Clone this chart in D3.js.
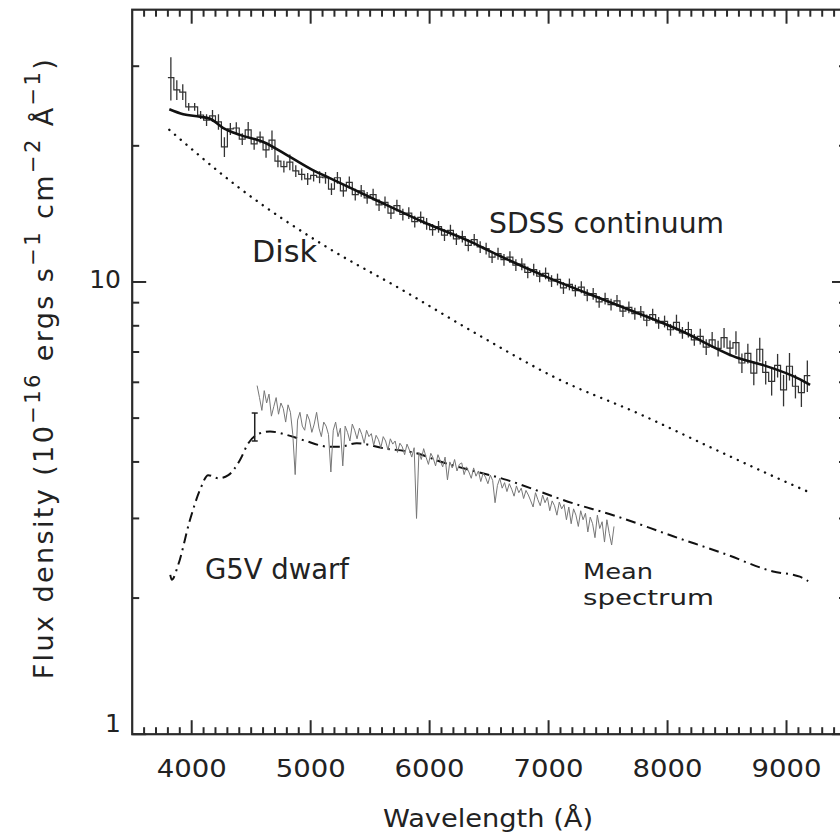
<!DOCTYPE html>
<html><head><meta charset="utf-8">
<script src="https://cdn.jsdelivr.net/npm/d3@7"></script>
<style>body{margin:0;background:#fff}svg{display:block}</style>
</head><body>
<svg id="chart" width="840" height="835"></svg>
<script>
// ---------------- data ----------------
const xMajorTicks = [4000, 5000, 6000, 7000, 8000, 9000];
const yLabelTicks = [1, 10];
const yMinorTicks = [2, 3, 4, 5, 6, 7, 8, 9, 20, 30];

const continuumWave = [3812, 3929, 4070, 4154, 4266, 4406, 4602, 4826, 5022, 5161, 5526, 5946, 6366, 6506, 6983, 7543, 8103, 8607, 8803, 9114, 9198];
const continuumFlux = [24.1, 23.5, 23.2, 22.95, 21.9, 21.15, 20.4, 18.9, 17.65, 16.97, 15.28, 13.57, 12.2, 11.7, 10.26, 8.96, 7.82, 6.77, 6.55, 6.09, 5.92];

const diskWave = [3812, 4406, 5134, 5750, 6424, 7081, 7769, 8328, 8887, 9210];
const diskFlux = [21.7, 16.1, 11.95, 9.67, 7.6, 6.1, 5.1, 4.35, 3.72, 3.41];

const g5vWave = [3820, 3832, 3887, 3986, 4070, 4139, 4224, 4308, 4406, 4476, 4574, 4658, 4798, 4938, 5162, 5246, 5387, 5610, 5891, 6087, 6647, 7207, 7543, 8047, 8471, 8887, 9112, 9182];
const g5vFlux = [2.25, 2.195, 2.37, 2.98, 3.47, 3.74, 3.68, 3.74, 4.04, 4.40, 4.63, 4.67, 4.59, 4.47, 4.32, 4.32, 4.40, 4.29, 4.18, 4.01, 3.65, 3.24, 3.05, 2.74, 2.51, 2.29, 2.23, 2.18];

const meanStart = 4550, meanStep = 20;
const meanFlux = [
  5.90, 5.55, 5.20, 5.75, 5.40, 5.65, 5.05, 5.30, 5.55, 5.10, 5.40, 5.25, 4.90, 5.35, 5.15, 4.60,
  3.75,
  4.95, 5.15, 4.80, 4.70, 5.10, 4.95, 4.65, 4.85, 5.15, 4.75, 4.55, 4.90, 4.80, 4.60,
  3.80,
  4.70, 4.90, 4.55, 4.75,
  3.92,
  4.80, 4.65, 4.45, 4.85, 4.70, 4.50, 4.75, 4.60, 4.40, 4.70, 4.55, 4.62, 4.35, 4.58, 4.48,
  4.30, 4.55, 4.45, 4.25, 4.50, 4.38, 4.45, 4.20, 4.40, 4.32, 4.15, 4.38, 4.25, 4.10, 4.30,
  3.00,
  4.20, 4.05, 4.28, 4.10, 3.95, 4.18, 4.08, 3.92, 4.15, 4.02, 3.90, 4.10,
  3.65, 4.00, 3.88, 4.05, 3.82, 3.95, 3.98, 3.75, 3.90, 3.80, 3.68, 3.88, 3.72, 3.82, 3.62, 3.78, 3.70, 3.58, 3.74, 3.64,
  3.25, 3.55, 3.68, 3.50, 3.60, 3.44, 3.58, 3.48, 3.36, 3.54, 3.42, 3.50, 3.32, 3.46, 3.38, 3.28,
  3.18, 3.42, 3.30, 3.20, 3.38, 3.25, 3.34, 3.12, 3.28, 3.20, 3.05, 3.26, 3.15, 3.22, 2.98, 3.18,
  2.92, 3.15, 3.05, 2.88, 3.12, 2.98, 3.08, 2.80, 3.02, 2.92, 2.72, 3.05, 2.85, 2.95, 2.66, 2.98,
  2.78, 2.62, 2.88];
const meanErrWave = 4530, meanErrLo = 4.45, meanErrHi = 5.13;

const sdssStart = 3800, sdssBin = 50;
const sdssFlux = [28.3, 26.6, 26.3, 24.4, 24.4, 23.4, 22.8, 23.3, 22.6, 19.9,
  21.8, 21.9, 20.7, 21.7, 20.2, 20.9, 19.6, 20.6, 18.5, 18.0,
  18.4, 17.6, 17.3, 16.9, 17.2, 17.05, 17.0, 16.05, 17.0, 15.9,
  16.6, 15.6, 15.9, 15.35, 15.6, 14.8, 15.0, 14.2, 14.75, 14.1,
  14.2, 13.6, 13.9, 13.45, 13.05, 13.25, 12.7, 13.0, 12.45, 12.6,
  12.05, 12.4, 11.95, 11.85, 11.35, 11.55, 11.2, 11.35, 10.9, 10.95,
  10.5, 10.65, 10.3, 10.45, 10.05, 10.13, 9.7, 9.88, 9.57, 9.74,
  9.35, 9.42, 9.04, 9.19, 8.91, 9.08, 8.62, 8.79, 8.51, 8.59,
  8.23, 8.47, 8.12, 8.18, 7.84, 8.14, 7.72, 7.85, 7.45, 7.58,
  7.18, 7.45, 7.13, 7.53, 7.14, 7.34, 6.62, 6.95, 6.29, 7.1,
  6.31, 6.03, 6.54, 5.77, 6.51, 5.88, 5.69, 6.21];
const sdssErrPct = [11, 5, 4, 2, 2, 2, 3, 3, 4, 5,
  3, 3, 3, 4, 3, 3, 4, 5, 3, 3,
  4, 3, 3, 3, 3, 3, 3, 3, 3, 3,
  3, 3, 3, 3, 3, 3, 3, 3, 3, 3,
  3, 3, 3, 3, 3, 3, 3, 3, 3, 3,
  3, 3, 3, 3, 3, 3, 3, 3, 3, 3,
  3, 3, 3, 3, 3, 3, 3, 3, 3, 3,
  3, 3, 3, 3, 3, 3, 3, 3, 3, 3,
  3, 3, 3, 3, 3, 4, 3, 4, 3, 4,
  4, 4, 4, 5, 4, 6, 5, 5, 6, 6,
  6, 7, 6, 8, 7, 6, 7, 8];

const labels = [
  {text: "SDSS continuum", x: 489, y: 233, size: 28, w: 235},
  {text: "Disk", x: 252, y: 262, size: 30, w: 65},
  {text: "G5V dwarf", x: 205, y: 579, size: 28, w: 144},
  {text: "Mean", x: 583, y: 579, size: 22, w: 70},
  {text: "spectrum", x: 583, y: 605, size: 22, w: 131}
];

// ---------------- scales ----------------
const svg = d3.select("#chart");
const x = d3.scaleLinear().domain([3500, 9500]).range([132.2, 846]);
const y = d3.scaleLog().domain([1, 40]).range([734.2, 9.7]);
const FONT = "DejaVu Sans, Verdana, sans-serif";
const ink = "#2b2b2b";

svg.append("defs").append("clipPath").attr("id", "clip")
  .append("rect").attr("x", x(3500)).attr("y", y(40)).attr("width", x(9500) - x(3500)).attr("height", y(1) - y(40));
const plot = svg.append("g").attr("clip-path", "url(#clip)");

// disk (dotted)
plot.append("path")
  .attr("d", d3.line().x((d, i) => x(diskWave[i])).y(d => y(d)).curve(d3.curveMonotoneX)(diskFlux))
  .attr("fill", "none").attr("stroke", "#111").attr("stroke-width", 2.4)
  .attr("stroke-linecap", "round").attr("stroke-dasharray", "0.1,7.4");

// G5V (dash-dot)
plot.append("path")
  .attr("d", d3.line().x((d, i) => x(g5vWave[i])).y(d => y(d)).curve(d3.curveMonotoneX)(g5vFlux))
  .attr("fill", "none").attr("stroke", "#111").attr("stroke-width", 2)
  .attr("stroke-dasharray", "10,5,2,5");

// mean spectrum (grey)
plot.append("path")
  .attr("d", d3.line().x((d, i) => x(meanStart + i * meanStep)).y(d => y(d))(meanFlux))
  .attr("fill", "none").attr("stroke", "#777").attr("stroke-width", 1);
const ebx = x(meanErrWave);
const eb = plot.append("g").attr("stroke", "#222").attr("stroke-width", 1.5);
eb.append("line").attr("x1", ebx).attr("x2", ebx).attr("y1", y(meanErrLo)).attr("y2", y(meanErrHi));
eb.append("line").attr("x1", ebx - 3).attr("x2", ebx + 3).attr("y1", y(meanErrLo)).attr("y2", y(meanErrLo));
eb.append("line").attr("x1", ebx - 3).attr("x2", ebx + 3).attr("y1", y(meanErrHi)).attr("y2", y(meanErrHi));

// SDSS binned data (histogram with error bars)
const hist = d3.path();
sdssFlux.forEach((f, i) => {
  const x0 = x(sdssStart + i * sdssBin), x1 = x(sdssStart + (i + 1) * sdssBin);
  if (i === 0) hist.moveTo(x0, y(f)); else hist.lineTo(x0, y(f));
  hist.lineTo(x1, y(f));
});
plot.append("path").attr("d", hist.toString()).attr("fill", "none")
  .attr("stroke", "#333").attr("stroke-width", 1.2);
plot.append("g").selectAll("line").data(sdssFlux).join("line")
  .attr("x1", (d, i) => x(sdssStart + (i + 0.5) * sdssBin))
  .attr("x2", (d, i) => x(sdssStart + (i + 0.5) * sdssBin))
  .attr("y1", (d, i) => y(d * (1 + sdssErrPct[i] / 100)))
  .attr("y2", (d, i) => y(d * (1 - sdssErrPct[i] / 100)))
  .attr("stroke", "#333").attr("stroke-width", 1.3);

// SDSS continuum (solid)
plot.append("path")
  .attr("d", d3.line().x((d, i) => x(continuumWave[i])).y(d => y(d)).curve(d3.curveMonotoneX)(continuumFlux))
  .attr("fill", "none").attr("stroke", "#111").attr("stroke-width", 2.6);

// ---------------- frame & ticks ----------------
const frame = svg.append("g").attr("stroke", ink).attr("stroke-width", 2.2).attr("fill", "none");
frame.append("rect").attr("x", x(3500)).attr("y", y(40)).attr("width", x(9500) - x(3500)).attr("height", y(1) - y(40));

const xMinor = d3.range(3600, 9500, 100).filter(v => v % 1000 !== 0);
const tk = svg.append("g").attr("stroke", ink).attr("stroke-width", 2);
const yB = y(1), yT = y(40), xL = x(3500), xR = x(9500);
xMajorTicks.forEach(v => {
  tk.append("line").attr("x1", x(v)).attr("x2", x(v)).attr("y1", yB).attr("y2", yB - 14);
  tk.append("line").attr("x1", x(v)).attr("x2", x(v)).attr("y1", yT).attr("y2", yT + 14);
});
xMinor.forEach(v => {
  tk.append("line").attr("x1", x(v)).attr("x2", x(v)).attr("y1", yB).attr("y2", yB - 7);
  tk.append("line").attr("x1", x(v)).attr("x2", x(v)).attr("y1", yT).attr("y2", yT + 7);
});
yLabelTicks.forEach(v => {
  tk.append("line").attr("x1", xL).attr("x2", xL + 14).attr("y1", y(v)).attr("y2", y(v));
  tk.append("line").attr("x1", xR).attr("x2", xR - 14).attr("y1", y(v)).attr("y2", y(v));
});
yMinorTicks.forEach(v => {
  tk.append("line").attr("x1", xL).attr("x2", xL + 7).attr("y1", y(v)).attr("y2", y(v));
  tk.append("line").attr("x1", xR).attr("x2", xR - 7).attr("y1", y(v)).attr("y2", y(v));
});

// tick labels
svg.append("g").selectAll("text").data(xMajorTicks).join("text")
  .attr("x", d => x(d)).attr("y", 777).attr("text-anchor", "middle")
  .attr("font-family", FONT).attr("font-size", 25).attr("fill", "#222")
  .attr("textLength", 70).attr("lengthAdjust", "spacingAndGlyphs")
  .text(d => d);
svg.append("g").selectAll("text").data(yLabelTicks).join("text")
  .attr("x", 121).attr("y", d => y(d) + (d === 1 ? -2 : 6)).attr("text-anchor", "end")
  .attr("font-family", FONT).attr("font-size", 25).attr("fill", "#222")
  .text(d => d);

// axis titles
svg.append("text").attr("x", 383).attr("y", 827)
  .attr("font-family", FONT).attr("font-size", 25).attr("fill", "#222")
  .attr("textLength", 210).attr("lengthAdjust", "spacingAndGlyphs")
  .text("Wavelength (Å)");

const yt = svg.append("text").attr("transform", "translate(53,368) rotate(-90)")
  .attr("text-anchor", "middle").attr("font-family", FONT).attr("font-size", 27)
  .attr("letter-spacing", 2.4).attr("fill", "#222");
const parts = [["Flux density (10", 0], ["−16", 1], [" ergs s", 0], ["−1", 1], [" cm", 0], ["−2", 1], [" Å", 0], ["−1", 1], [")", 0]];
parts.forEach(([t, sup], i) => {
  const ts = yt.append("tspan").text(t);
  if (sup) ts.attr("dy", -13).attr("font-size", 21);
  else if (i > 0) ts.attr("dy", 13);
});

// annotations
svg.append("g").selectAll("text").data(labels).join("text")
  .attr("x", d => d.x).attr("y", d => d.y)
  .attr("font-family", FONT).attr("font-size", d => d.size).attr("fill", "#222")
  .attr("textLength", d => d.w).attr("lengthAdjust", "spacingAndGlyphs")
  .text(d => d.text);
</script>
</body></html>
